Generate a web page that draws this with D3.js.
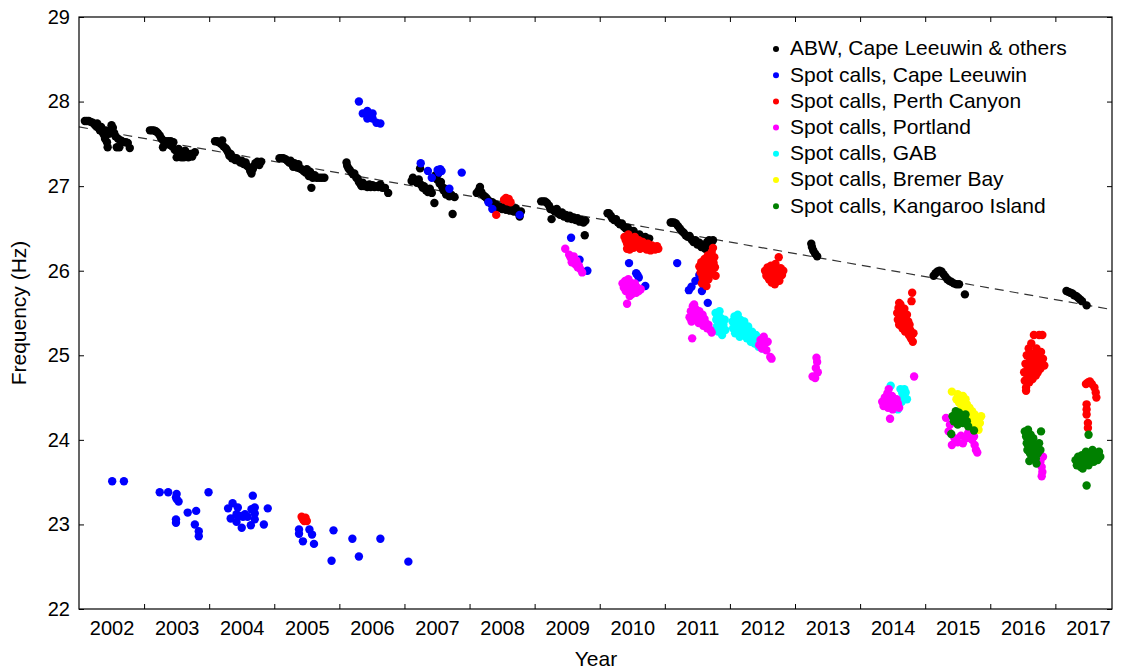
<!DOCTYPE html>
<html>
<head>
<meta charset="utf-8">
<script src="https://cdn.jsdelivr.net/npm/d3@7"></script>
<style>
  body { margin: 0; background: #fff; }
  text { font-family: Arial, "Liberation Sans", sans-serif; fill: #000; }
</style>
</head>
<body>
<div id="chart"></div>
<script>
// ---- data: [year, frequency Hz] ----
var abwOthers = [
  [2002.09,27.77],[2002.12,27.77],[2002.15,27.77],[2002.18,27.76],[2002.21,27.75],[2002.24,27.73],[2002.26,27.71],[2002.28,27.74],
  [2002.30,27.69],[2002.32,27.66],[2002.34,27.70],[2002.36,27.64],[2002.38,27.61],[2002.40,27.56],[2002.41,27.66],[2002.43,27.52],
  [2002.44,27.46],[2002.46,27.62],[2002.48,27.66],[2002.50,27.72],[2002.52,27.69],[2002.54,27.63],[2002.56,27.59],[2002.58,27.46],
  [2002.60,27.56],[2002.62,27.46],[2002.64,27.54],[2002.66,27.53],[2002.69,27.52],[2002.72,27.52],[2002.75,27.51],[2002.78,27.45],
  [2003.09,27.66],[2003.12,27.66],[2003.15,27.66],[2003.18,27.65],[2003.21,27.63],[2003.24,27.60],[2003.26,27.57],[2003.28,27.55],
  [2003.29,27.46],[2003.31,27.52],[2003.33,27.53],[2003.35,27.50],[2003.37,27.53],[2003.39,27.49],[2003.41,27.53],[2003.43,27.47],
  [2003.45,27.52],[2003.47,27.43],[2003.50,27.34],[2003.51,27.40],[2003.53,27.44],[2003.55,27.36],[2003.57,27.34],[2003.59,27.40],
  [2003.61,27.34],[2003.63,27.42],[2003.66,27.38],[2003.68,27.34],[2003.71,27.38],[2003.74,27.35],[2003.78,27.40],
  [2004.09,27.53],[2004.12,27.53],[2004.15,27.52],[2004.18,27.50],[2004.20,27.54],[2004.22,27.47],[2004.25,27.45],[2004.27,27.43],
  [2004.29,27.40],[2004.31,27.36],[2004.33,27.38],[2004.35,27.33],[2004.37,27.34],[2004.40,27.31],[2004.42,27.33],[2004.45,27.30],
  [2004.48,27.28],[2004.50,27.30],[2004.53,27.26],[2004.56,27.28],[2004.58,27.24],[2004.61,27.22],[2004.63,27.18],[2004.65,27.15],
  [2004.67,27.20],[2004.69,27.24],[2004.71,27.27],[2004.74,27.29],[2004.77,27.25],[2004.80,27.29],
  [2005.08,27.33],[2005.11,27.33],[2005.14,27.33],[2005.17,27.32],[2005.20,27.30],[2005.23,27.28],[2005.25,27.30],[2005.27,27.26],
  [2005.29,27.23],[2005.31,27.27],[2005.33,27.25],[2005.35,27.22],[2005.37,27.26],[2005.39,27.21],[2005.42,27.20],[2005.45,27.18],
  [2005.48,27.16],[2005.50,27.20],[2005.53,27.12],[2005.55,27.17],[2005.57,26.98],[2005.59,27.10],[2005.62,27.13],[2005.65,27.10],
  [2005.69,27.10],[2005.73,27.10],[2005.77,27.10],
  [2006.11,27.28],[2006.12,27.24],[2006.14,27.21],[2006.16,27.19],[2006.19,27.16],[2006.21,27.14],[2006.23,27.15],[2006.26,27.10],
  [2006.28,27.09],[2006.30,27.05],[2006.32,27.03],[2006.34,27.00],[2006.36,27.04],[2006.38,27.00],[2006.40,27.01],[2006.43,26.99],
  [2006.46,27.02],[2006.48,26.99],[2006.51,27.01],[2006.54,26.99],[2006.57,27.00],[2006.60,26.99],[2006.63,27.02],[2006.66,26.98],
  [2006.70,26.98],[2006.75,26.92],
  [2007.11,27.06],[2007.13,27.10],[2007.16,27.07],[2007.19,27.04],[2007.22,27.08],[2007.24,27.21],[2007.25,27.02],[2007.28,26.98],
  [2007.30,27.00],[2007.33,26.95],[2007.36,26.93],[2007.39,26.97],[2007.42,26.92],[2007.46,26.80],[2007.48,27.13],[2007.50,27.08],
  [2007.52,27.15],[2007.54,27.03],[2007.56,27.05],[2007.58,26.99],[2007.60,26.95],[2007.62,26.97],[2007.64,26.90],[2007.66,26.93],
  [2007.69,26.88],[2007.72,26.90],[2007.74,26.67],[2007.77,26.87],
  [2008.11,26.92],[2008.14,26.95],[2008.16,26.99],[2008.18,26.93],[2008.20,26.90],[2008.23,26.88],[2008.26,26.86],[2008.29,26.83],
  [2008.32,26.80],[2008.35,26.81],[2008.38,26.77],[2008.41,26.78],[2008.44,26.74],[2008.47,26.76],[2008.50,26.73],[2008.53,26.75],
  [2008.56,26.72],[2008.59,26.74],[2008.62,26.71],[2008.65,26.73],[2008.68,26.70],[2008.71,26.74],[2008.74,26.69],[2008.77,26.64],
  [2008.79,26.70],
  [2009.10,26.82],[2009.13,26.82],[2009.16,26.82],[2009.19,26.80],[2009.22,26.77],[2009.24,26.73],[2009.26,26.61],[2009.28,26.72],
  [2009.31,26.70],[2009.34,26.73],[2009.36,26.68],[2009.39,26.66],[2009.42,26.69],[2009.45,26.64],[2009.48,26.66],[2009.51,26.62],
  [2009.54,26.65],[2009.57,26.61],[2009.60,26.63],[2009.63,26.60],[2009.66,26.62],[2009.69,26.58],[2009.72,26.60],[2009.75,26.57],
  [2009.77,26.42],[2009.78,26.59],
  [2010.12,26.68],[2010.14,26.68],[2010.17,26.65],[2010.19,26.62],[2010.22,26.60],[2010.25,26.61],[2010.28,26.57],[2010.31,26.55],
  [2010.34,26.56],[2010.37,26.52],[2010.40,26.50],[2010.43,26.51],[2010.46,26.47],[2010.49,26.45],[2010.52,26.47],[2010.55,26.43],
  [2010.58,26.41],[2010.61,26.43],[2010.64,26.40],[2010.67,26.38],[2010.70,26.40],[2010.73,26.36],[2010.76,26.38],
  [2011.09,26.57],[2011.11,26.57],[2011.14,26.57],[2011.17,26.56],[2011.20,26.53],[2011.23,26.50],[2011.26,26.47],[2011.29,26.45],
  [2011.32,26.42],[2011.35,26.40],[2011.38,26.41],[2011.41,26.37],[2011.44,26.34],[2011.47,26.36],[2011.50,26.31],[2011.53,26.33],
  [2011.56,26.28],[2011.59,26.30],[2011.62,26.26],[2011.65,26.34],[2011.68,26.36],[2011.71,26.30],[2011.74,26.36],
  [2013.25,26.32],[2013.26,26.28],[2013.28,26.24],[2013.31,26.20],[2013.34,26.17],
  [2015.13,25.94],[2015.16,25.97],[2015.19,25.99],[2015.22,26.00],[2015.25,25.99],[2015.28,25.96],[2015.31,25.93],[2015.34,25.90],
  [2015.37,25.88],[2015.40,25.87],[2015.44,25.85],[2015.48,25.84],[2015.52,25.84],[2015.61,25.72],
  [2017.17,25.76],[2017.20,25.75],[2017.23,25.74],[2017.26,25.73],[2017.29,25.71],[2017.32,25.70],[2017.35,25.68],[2017.38,25.66],
  [2017.41,25.64],[2017.48,25.59]
];

var spotCapeLeeuwin = [
  [2002.51,23.51],[2002.69,23.51],
  [2003.24,23.38],[2003.37,23.38],[2003.50,23.36],[2003.49,23.32],[2003.53,23.27],[2003.50,23.30],[2003.67,23.14],[2003.80,23.16],
  [2003.49,23.06],[2003.49,23.02],[2003.78,23.00],[2003.84,22.92],[2003.84,22.86],[2003.99,23.38],
  [2004.67,23.34],[2004.36,23.25],[2004.29,23.19],[2004.44,23.20],[2004.65,23.18],[2004.70,23.20],[2004.90,23.19],[2004.42,23.12],
  [2004.52,23.09],[2004.59,23.09],[2004.33,23.07],[2004.42,23.03],[2004.70,23.06],[2004.50,22.96],[2004.64,22.99],[2004.84,23.00],
  [2004.47,23.10],[2004.55,23.12],[2004.70,23.13],
  [2005.38,22.94],[2005.38,22.89],[2005.54,22.94],[2005.58,22.88],[2005.44,22.80],[2005.61,22.77],[2005.88,22.57],[2005.91,22.93],
  [2006.20,22.83],[2006.30,22.62],[2006.63,22.83],[2007.06,22.56],
  [2006.30,28.00],[2006.36,27.86],[2006.43,27.89],[2006.45,27.85],[2006.51,27.86],[2006.43,27.80],[2006.51,27.80],[2006.57,27.75],
  [2006.63,27.74],[2006.48,27.82],
  [2007.25,27.27],[2007.36,27.18],[2007.42,27.10],[2007.51,27.19],[2007.55,27.20],[2007.57,27.18],[2007.53,27.16],[2007.69,26.97],
  [2007.88,27.16],
  [2008.29,26.81],[2008.35,26.73],[2008.77,26.66],
  [2009.56,26.39],[2009.69,26.13],[2009.81,26.00],
  [2010.45,26.09],[2010.56,25.97],[2010.60,25.92],[2010.70,25.82],[2010.58,25.95],
  [2011.19,26.09],[2011.53,25.95],[2011.47,25.88],[2011.41,25.81],[2011.37,25.77],[2011.57,25.76],[2011.66,25.62]
];

var spotPerthCanyon = [
  [2005.42,23.09],[2005.44,23.06],[2005.46,23.04],[2005.48,23.08],[2005.50,23.04],
  [2008.53,26.84],[2008.56,26.86],[2008.58,26.82],[2008.60,26.85],[2008.63,26.81],[2008.41,26.66],
  [2010.38,26.40],[2010.40,26.36],[2010.42,26.32],[2010.44,26.43],[2010.46,26.38],[2010.48,26.30],[2010.50,26.34],[2010.52,26.27],
  [2010.54,26.40],[2010.56,26.33],[2010.58,26.29],[2010.60,26.36],[2010.62,26.26],[2010.64,26.31],[2010.66,26.34],[2010.68,26.27],
  [2010.70,26.30],[2010.72,26.25],[2010.74,26.32],[2010.76,26.28],[2010.78,26.24],[2010.80,26.30],[2010.82,26.27],[2010.85,26.25],
  [2010.88,26.29],[2010.90,26.26],[2010.46,26.25],[2010.42,26.26],
  [2011.53,26.05],[2011.55,25.98],[2011.56,26.10],[2011.58,25.92],[2011.59,26.02],[2011.60,25.86],[2011.61,26.14],[2011.62,25.96],
  [2011.63,26.06],[2011.64,25.82],[2011.65,26.00],[2011.66,26.18],[2011.67,25.90],[2011.68,26.08],[2011.69,25.95],[2011.70,26.12],
  [2011.71,26.03],[2011.72,26.22],[2011.73,25.98],[2011.74,26.27],[2011.75,26.09],[2011.76,26.16],[2011.77,26.04],[2011.78,25.94],
  [2011.57,25.85],[2011.63,25.88],
  [2012.54,26.00],[2012.56,25.94],[2012.58,26.04],[2012.60,25.90],[2012.61,25.98],[2012.63,26.06],[2012.64,25.86],[2012.66,25.95],
  [2012.67,26.02],[2012.69,25.84],[2012.70,26.08],[2012.72,25.92],[2012.73,25.99],[2012.75,26.16],[2012.76,25.88],[2012.78,26.03],
  [2012.80,25.95],[2012.82,26.00],
  [2014.57,25.50],[2014.58,25.42],[2014.59,25.56],[2014.60,25.36],[2014.61,25.48],[2014.62,25.60],[2014.63,25.40],[2014.64,25.52],
  [2014.65,25.32],[2014.66,25.45],[2014.67,25.38],[2014.68,25.55],[2014.69,25.28],[2014.70,25.42],[2014.71,25.35],[2014.72,25.48],
  [2014.73,25.30],[2014.74,25.40],[2014.75,25.24],[2014.76,25.36],[2014.77,25.30],[2014.78,25.20],[2014.79,25.64],[2014.80,25.74],
  [2014.81,25.16],[2014.82,25.26],[2014.60,25.62],
  [2016.52,24.80],[2016.53,24.70],[2016.54,24.90],[2016.55,24.62],[2016.56,25.00],[2016.57,24.76],[2016.58,24.86],[2016.59,25.08],
  [2016.60,24.68],[2016.61,24.95],[2016.62,24.80],[2016.63,25.14],[2016.64,24.90],[2016.65,24.72],[2016.66,25.02],[2016.67,25.24],
  [2016.68,24.84],[2016.69,24.96],[2016.70,24.76],[2016.71,25.08],[2016.72,24.88],[2016.73,24.80],[2016.74,25.00],[2016.75,25.24],
  [2016.76,24.92],[2016.77,24.84],[2016.78,25.04],[2016.80,25.24],[2016.81,24.96],[2016.83,24.88],[2016.55,24.58],
  [2017.47,24.66],[2017.50,24.68],[2017.53,24.69],[2017.56,24.66],[2017.60,24.62],[2017.62,24.56],[2017.63,24.50],[2017.48,24.42],
  [2017.48,24.36],[2017.48,24.30],[2017.50,24.20],[2017.50,24.14]
];

var spotPortland = [
  [2009.47,26.26],[2009.53,26.19],[2009.55,26.16],[2009.58,26.13],[2009.60,26.17],[2009.57,26.10],[2009.62,26.08],[2009.64,26.12],
  [2009.66,26.04],[2009.68,26.06],[2009.70,26.02],[2009.73,25.98],[2009.60,26.14],[2009.65,26.09],
  [2010.35,25.85],[2010.37,25.80],[2010.39,25.88],[2010.40,25.76],[2010.42,25.83],[2010.44,25.90],[2010.45,25.78],[2010.47,25.86],
  [2010.49,25.72],[2010.50,25.81],[2010.52,25.77],[2010.54,25.85],[2010.56,25.74],[2010.58,25.80],[2010.60,25.76],[2010.63,25.78],
  [2010.42,25.61],[2010.46,25.70],
  [2011.38,25.45],[2011.40,25.52],[2011.41,25.40],[2011.43,25.58],[2011.44,25.48],[2011.46,25.42],[2011.47,25.55],[2011.49,25.50],
  [2011.50,25.44],[2011.52,25.38],[2011.53,25.52],[2011.55,25.46],[2011.56,25.40],[2011.58,25.48],[2011.59,25.35],[2011.61,25.43],
  [2011.63,25.38],[2011.65,25.32],[2011.67,25.36],[2011.70,25.30],[2011.72,25.27],[2011.42,25.20],[2011.45,25.60],
  [2012.45,25.12],[2012.47,25.18],[2012.49,25.08],[2012.52,25.22],[2012.54,25.14],[2012.56,25.06],[2012.58,25.16],[2012.62,24.98],
  [2012.64,24.96],
  [2013.33,24.97],[2013.34,24.92],[2013.32,24.85],[2013.35,24.80],[2013.27,24.75],[2013.31,24.73],
  [2014.34,24.45],[2014.36,24.40],[2014.38,24.50],[2014.40,24.43],[2014.42,24.55],[2014.43,24.38],[2014.45,24.48],[2014.47,24.42],
  [2014.49,24.52],[2014.50,24.36],[2014.52,24.45],[2014.54,24.40],[2014.56,24.48],[2014.58,24.43],[2014.60,24.38],[2014.46,24.25],
  [2014.83,24.75],[2014.44,24.60],
  [2015.32,24.26],[2015.36,24.10],[2015.38,24.18],[2015.41,23.94],[2015.45,24.02],[2015.50,23.97],[2015.55,24.05],[2015.58,23.96],
  [2015.63,24.02],[2015.66,24.08],[2015.72,24.00],[2015.75,24.04],[2015.76,23.94],[2015.78,23.88],[2015.80,23.85],[2015.70,24.14],
  [2016.77,23.74],[2016.79,23.68],[2016.80,23.62],[2016.79,23.57],[2016.81,23.80]
];

var spotGAB = [
  [2011.78,25.50],[2011.79,25.42],[2011.80,25.34],[2011.81,25.46],[2011.82,25.28],[2011.84,25.52],[2011.85,25.38],[2011.86,25.44],
  [2011.87,25.30],[2011.88,25.24],[2011.90,25.36],[2011.92,25.42],[2011.93,25.30],
  [2012.04,25.40],[2012.05,25.32],[2012.07,25.46],[2012.08,25.26],[2012.10,25.38],[2012.12,25.48],[2012.13,25.30],[2012.15,25.22],
  [2012.16,25.42],[2012.18,25.34],[2012.20,25.26],[2012.22,25.40],[2012.24,25.30],[2012.26,25.20],[2012.28,25.34],[2012.30,25.26],
  [2012.32,25.16],[2012.34,25.28],[2012.36,25.22],[2012.38,25.14],[2012.40,25.24],[2012.42,25.18],[2012.44,25.10],[2012.46,25.20],
  [2012.48,25.14],[2012.50,25.08],
  [2014.47,24.64],[2014.62,24.60],[2014.65,24.55],[2014.67,24.50],[2014.70,24.56],[2014.72,24.48],[2014.68,24.60],[2014.58,24.36],
  [2014.64,24.45]
];

var spotBremerBay = [
  [2015.41,24.57],[2015.48,24.48],[2015.50,24.54],[2015.52,24.44],[2015.54,24.50],[2015.56,24.40],[2015.58,24.52],[2015.60,24.46],
  [2015.62,24.36],[2015.64,24.42],[2015.66,24.32],[2015.68,24.38],[2015.70,24.26],[2015.72,24.34],[2015.74,24.22],[2015.76,24.30],
  [2015.78,24.16],[2015.80,24.24],[2015.82,24.12],[2015.84,24.20],[2015.86,24.28],[2015.62,24.48]
];

var spotKangaroo = [
  [2015.40,24.07],[2015.42,24.28],[2015.44,24.22],[2015.46,24.30],[2015.48,24.25],[2015.50,24.18],[2015.52,24.32],[2015.54,24.24],
  [2015.56,24.28],[2015.58,24.20],[2015.60,24.26],[2015.62,24.30],[2015.64,24.22],[2015.66,24.16],[2015.75,24.11],[2015.47,24.34],
  [2016.53,24.10],[2016.55,24.04],[2016.56,23.96],[2016.57,23.88],[2016.58,24.12],[2016.59,24.00],[2016.60,23.92],[2016.61,23.84],
  [2016.62,24.06],[2016.63,23.98],[2016.64,23.80],[2016.65,23.90],[2016.66,24.02],[2016.68,23.86],[2016.69,23.94],[2016.70,23.78],
  [2016.72,23.92],[2016.73,23.84],[2016.75,23.96],[2016.78,24.10],[2016.77,23.88],[2016.60,23.75],[2016.71,23.72],
  [2017.31,23.76],[2017.33,23.70],[2017.35,23.80],[2017.37,23.74],[2017.39,23.68],[2017.41,23.82],[2017.43,23.76],[2017.45,23.72],
  [2017.47,23.86],[2017.49,23.78],[2017.51,23.70],[2017.53,23.82],[2017.55,23.76],[2017.57,23.88],[2017.59,23.74],[2017.61,23.80],
  [2017.63,23.84],[2017.65,23.76],[2017.67,23.86],[2017.69,23.80],[2017.48,23.46],[2017.51,24.06],[2017.42,23.66]
];

// dashed trend line end points [year, Hz]
var trend = [[2002.0, 27.70], [2017.87, 25.54]];

var seriesNames = ["ABW, Cape Leeuwin & others", "Spot calls, Cape Leeuwin", "Spot calls, Perth Canyon",
  "Spot calls, Portland", "Spot calls, GAB", "Spot calls, Bremer Bay", "Spot calls, Kangaroo Island"];
var seriesColors = ["#000000", "#0000ff", "#ff0000", "#ff00ff", "#00ffff", "#ffff00", "#008000"];
var seriesData = [abwOthers, spotCapeLeeuwin, spotPerthCanyon, spotPortland, spotGAB, spotBremerBay, spotKangaroo];
// drawing order (cyan under magenta, green last)
var drawOrder = [0, 1, 2, 4, 3, 5, 6];

var yearTicks = d3.range(2003, 2018);        // tick marks at year boundaries
var yearLabels = d3.range(2002, 2018);       // labels centred in each year
var freqTicks = [22, 23, 24, 25, 26, 27, 28, 29];

// ---- layout ----
var W = 1128, H = 671;
var margin = { top: 17, right: 16, bottom: 62, left: 79 };
var width = W - margin.left - margin.right,
    height = H - margin.top - margin.bottom;

var svg = d3.select("#chart").append("svg")
  .attr("width", W)
  .attr("height", H);

var g = svg.append("g")
  .attr("transform", "translate(" + margin.left + "," + margin.top + ")");

var x = d3.scaleLinear().domain([2002, 2017.87]).range([0, width]);
var y = d3.scaleLinear().domain([22, 29]).range([height, 0]);

// trend line
g.append("line")
  .attr("x1", x(trend[0][0])).attr("y1", y(trend[0][1]))
  .attr("x2", x(trend[1][0])).attr("y2", y(trend[1][1]))
  .attr("stroke", "#333")
  .attr("stroke-width", 1.2)
  .attr("stroke-dasharray", "9,6");

// points
drawOrder.forEach(function(i) {
  g.append("g").selectAll("circle")
    .data(seriesData[i])
    .enter().append("circle")
    .attr("cx", function(d) { return x(d[0]); })
    .attr("cy", function(d) { return y(d[1]); })
    .attr("r", 4.2)
    .attr("fill", seriesColors[i]);
});

// axes: ticks point inward on all four sides
function styleAxis(sel) {
  sel.select(".domain").remove();
  sel.selectAll(".tick line").attr("stroke", "#000");
  sel.selectAll("text").style("font-size", "20px").attr("fill", "#000");
}

g.append("g")
  .attr("transform", "translate(0," + height + ")")
  .call(d3.axisBottom(x).tickValues(yearTicks).tickSize(-5).tickFormat(""))
  .call(styleAxis);

g.append("g")
  .call(d3.axisTop(x).tickValues(yearTicks).tickSize(-5).tickFormat(""))
  .call(styleAxis);

// year labels, centred between ticks
g.append("g")
  .attr("transform", "translate(0," + height + ")")
  .call(d3.axisBottom(x).tickValues(yearLabels.map(function(v) { return v + 0.5; }))
    .tickSize(0).tickPadding(12).tickFormat(function(v) { return String(Math.floor(v)); }))
  .call(styleAxis);

g.append("g")
  .call(d3.axisLeft(y).tickValues(freqTicks).tickSize(-5).tickPadding(9).tickFormat(d3.format("d")))
  .call(styleAxis);

g.append("g")
  .attr("transform", "translate(" + width + ",0)")
  .call(d3.axisRight(y).tickValues(freqTicks).tickSize(-5).tickFormat(""))
  .call(styleAxis);

// frame
g.append("rect")
  .attr("width", width).attr("height", height)
  .attr("fill", "none").attr("stroke", "#000").attr("stroke-width", 1.2);

// axis titles
svg.append("text")
  .attr("x", 596)
  .attr("y", 666)
  .attr("text-anchor", "middle")
  .style("font-size", "21px")
  .text("Year");

svg.append("text")
  .attr("transform", "translate(26," + (margin.top + height / 2) + ") rotate(-90)")
  .attr("text-anchor", "middle")
  .style("font-size", "21px")
  .text("Frequency (Hz)");

// legend
var legend = svg.append("g").attr("transform", "translate(776,48)");
var item = legend.selectAll("g")
  .data(seriesNames)
  .enter().append("g")
  .attr("transform", function(d, i) { return "translate(0," + (i * 26.2) + ")"; });
item.append("circle")
  .attr("r", 3)
  .attr("cy", 1)
  .attr("fill", function(d, i) { return seriesColors[i]; });
item.append("text")
  .attr("x", 14)
  .attr("dy", "0.35em")
  .style("font-size", "21px")
  .text(function(d) { return d; });
</script>
</body>
</html>
